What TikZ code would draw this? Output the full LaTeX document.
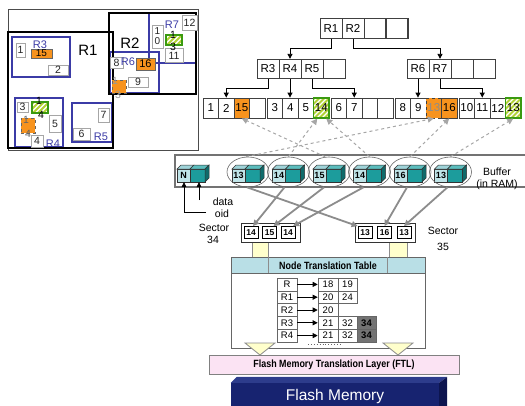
\documentclass[tikz,border=0pt]{standalone}
\usepackage{fontspec}
\setmainfont{Liberation Sans}
\newfontfamily\nb[FakeStretch=0.85]{Liberation Sans}
\usetikzlibrary{arrows.meta,shapes.geometric,calc}
\definecolor{orng}{HTML}{F7931E}
\definecolor{rblue}{HTML}{3B3BA6}
\definecolor{lcube}{HTML}{BFE4E8}
\definecolor{lcubetop}{HTML}{9FD3D8}
\definecolor{tcube}{HTML}{1C9C9C}
\definecolor{tside}{HTML}{0F6B6B}
\definecolor{ttop}{HTML}{5CBDBD}
\definecolor{hgreen}{HTML}{3A9A10}
\definecolor{hyel}{HTML}{B2D235}
\definecolor{ntthead}{HTML}{B9DFE6}
\definecolor{ftlpink}{HTML}{FBE3F3}
\definecolor{ylw}{HTML}{FFFFCC}
\definecolor{navy}{HTML}{172370}
\definecolor{navytop}{HTML}{2D3C8C}
\definecolor{navyside}{HTML}{0D154F}
\tikzset{
  tc/.style={draw=black!75, line width=0.8pt, fill=white, inner sep=0pt, minimum width=22pt, minimum height=19.5pt, font=\fontsize{11.5}{11.5}\selectfont},
  lc/.style={tc, minimum width=15.5pt, minimum height=20pt},
  orc/.style={fill=orng},
  hatch/.style={fill=white, draw=hgreen, line width=1.2pt,
    path picture={\foreach \k in {-24,-19,...,24} \draw[line width=2pt, hyel] ([xshift=\k pt]path picture bounding box.south west) -- ++(26,-26);}},
  tarr/.style={draw=black, line width=0.8pt, -{Triangle[length=5pt,width=5pt]}},
  gbox/.style={draw=black!35, line width=1pt, fill=white, inner sep=0pt, font=\fontsize{10.5}{10.5}\selectfont, text=black!85},
  bluebox/.style={draw=rblue, line width=1.4pt},
  thickbox/.style={draw=black, line width=2pt},
  bluelab/.style={text=rblue, font=\fontsize{11}{11}\selectfont, inner sep=0pt},
  ptext/.style={inner sep=0pt, font=\fontsize{10.5}{10.5}\selectfont},
  dasharr/.style={draw=black!35, dashed, line width=1pt, -{Triangle[length=6pt,width=6pt]}},
  solarr/.style={draw=black!45, line width=1.8pt, -{Triangle[length=6pt,width=6pt]}},
  ell/.style={ellipse, draw=black!60, line width=0.6pt, minimum width=42pt, minimum height=30pt, inner sep=0pt},
  scell/.style={draw=black, line width=0.8pt, fill=white, inner sep=0pt, minimum width=14pt, minimum height=12pt, font=\fontsize{8.5}{8.5}\selectfont\bfseries},
  ntc/.style={draw=black!60, line width=0.6pt, fill=white, inner sep=0pt, minimum height=12.8pt, font=\fontsize{9.5}{9.5}\selectfont},
  lab/.style={inner sep=0pt, font=\fontsize{10.5}{11}\selectfont},
  narr/.style={draw=black, line width=0.8pt, -{Triangle[length=5pt,width=4.5pt]}},
  yarrow/.style={fill=ylw, draw=black!45, line width=0.8pt, line join=miter},
  cubepair/.pic={
    \filldraw[fill=lcube, draw=black!80, line width=0.5pt] (0,0) rectangle (13,13);
    \filldraw[fill=tcube, draw=black!80, line width=0.5pt] (13,0) rectangle (28,13);
    \filldraw[fill=lcubetop, draw=black!80, line width=0.5pt] (0,0) -- (4,-4) -- (17,-4) -- (13,0) -- cycle;
    \filldraw[fill=ttop, draw=black!80, line width=0.5pt] (13,0) -- (17,-4) -- (32,-4) -- (28,0) -- cycle;
    \filldraw[fill=tside, draw=black!80, line width=0.5pt] (28,0) -- (32,-4) -- (32,9) -- (28,13) -- cycle;
    \node[inner sep=0pt, font=\fontsize{9}{9}\selectfont\bfseries] at (6.5,6.8) {\tikzpictext};
    \coordinate (-fb) at (7,13);
    \coordinate (-tb) at (22,13);
  }
}
\begin{document}
\begin{tikzpicture}[x=1pt,y=-1pt]
\useasboundingbox (0,0) rectangle (525,405);

% ================= left spatial panel =================
\draw[black!70, line width=0.8pt] (8,9) rectangle (198,150);
\draw[bluebox] (12,37) rectangle (70,77);
\draw[bluebox] (15,98) rectangle (63,147);
\draw[bluebox] (72,103) rectangle (112,142);
\draw[bluebox] (110,52) rectangle (159,93);
\draw[bluebox] (149,13) rectangle (196,63);
\draw[thickbox] (8,32) rectangle (113,148);
\draw[thickbox] (109,13) rectangle (196,94);

\node[inner sep=0pt, font=\fontsize{15}{15}\selectfont] (tR1) at (88,50) {R1};
\node[inner sep=0pt, font=\fontsize{15}{15}\selectfont] (tR2) at (130,43) {R2};

\node[gbox, minimum width=9pt, minimum height=14pt] (p1) at (20.5,50) {1};
\node[gbox, minimum width=20pt, minimum height=10pt] (p2) at (58,70) {2};
\node[gbox, minimum width=11pt, minimum height=10pt] (p3) at (22.5,107) {3};
\node[gbox, minimum width=12pt, minimum height=17pt] (p5) at (55,123.5) {5};
\node[gbox, minimum width=12pt, minimum height=12pt] (p4) at (37,141) {4};
\node[gbox, minimum width=11pt, minimum height=14pt] (p7) at (103.5,115) {7};
\node[gbox, minimum width=17pt, minimum height=12pt] (p6) at (81.5,134) {6};
\node[gbox, minimum width=13pt, minimum height=11pt] (p8) at (116.5,62.5) {8};
\node[gbox, minimum width=20pt, minimum height=10pt] (p9) at (138,82) {9};
\node[gbox, minimum width=11pt, minimum height=23pt, align=center, font=\fontsize{10}{10}\selectfont] (p10) at (157.5,36.5) {1\\0};
\node[gbox, minimum width=15pt, minimum height=15pt] (p12) at (189.5,22.5) {12};
\node[gbox, minimum width=18pt, minimum height=14pt] (p11) at (174,55.5) {11};

\node[bluelab] (lR3) at (40,44.5) {R3};
\node[draw=black!60, line width=0.6pt, fill=orng, inner sep=0pt, minimum width=21pt, minimum height=9pt, font=\fontsize{10}{10}\selectfont] (p15) at (41.5,53.5) {15};
\node[bluelab] (lR6) at (128,62) {R6};
\node[draw=black!60, line width=0.6pt, fill=orng, inner sep=0pt, minimum width=19pt, minimum height=12pt, font=\fontsize{11}{11}\selectfont] (p16) at (145.5,64) {16};
\node[bluelab] (lR4) at (53,144) {R4};
\node[bluelab] (lR5) at (101,137) {R5};
\node[bluelab] (lR7) at (172,24.5) {R7};

\node[draw=black!60, dashed, line width=0.6pt, fill=orng, inner sep=0pt, minimum width=14pt, minimum height=15pt] (po14) at (28,125.5) {};
\node[ptext, text=black!60] (po14a) at (26,120) {1};
\node[ptext, text=black!60] (po14b) at (28,134) {4};
\node[draw=black!60, dashed, line width=0.6pt, fill=orng, inner sep=0pt, minimum width=14pt, minimum height=13pt] (po13) at (119,86.5) {};
\node[ptext, text=black!40] (po13a) at (115,81) {1};
\node[ptext, text=black!40] (po13b) at (118,95) {3};

\node[hatch, minimum width=16pt, minimum height=11pt, inner sep=0pt] (ph14) at (40,107.5) {};
\node[ptext] (ph14a) at (39,101) {1};
\node[ptext] (ph14b) at (41,115) {4};
\node[hatch, minimum width=16pt, minimum height=10pt, inner sep=0pt] (ph13) at (174,40) {};
\node[ptext] (ph13a) at (173,34.5) {1};
\node[ptext] (ph13b) at (173,46.5) {3};

% ================= R-tree =================
\node[tc] (r1) at (331,28.5) {R1};
\node[tc] (r2) at (353,28.5) {R2};
\node[tc] (r3x) at (375,28.5) {};
\node[tc, line width=1.2pt] (r4x) at (397,28.5) {};

\node[tc] (a3) at (268,69) {R3};
\node[tc] (a4) at (290,69) {R4};
\node[tc] (a5) at (312,69) {R5};
\node[tc] (a6) at (334,69) {};
\node[tc] (b6) at (418,69) {R6};
\node[tc] (b7) at (440,69) {R7};
\node[tc] (b8) at (462,69) {};
\node[tc] (b9) at (484,69) {};

\node[lc] (l1a) at (210.75,108) {1};
\node[lc] (l1b) at (226.25,108) {2};
\node[lc, orc] (l1c) at (241.75,108) {15};
\node[lc] (l1d) at (257.25,108) {};
\node[lc] (l2a) at (274.75,108) {3};
\node[lc] (l2b) at (290.25,108) {4};
\node[lc] (l2c) at (305.75,108) {5};
\node[lc, hatch] (l2d) at (321.25,108) {14};
\node[lc] (l3a) at (338.75,108) {6};
\node[lc] (l3b) at (354.25,108) {7};
\node[lc] (l3c) at (369.75,108) {};
\node[lc] (l3d) at (385.25,108) {};
\node[lc] (l4a) at (402.75,108) {8};
\node[lc] (l4b) at (418.25,108) {9};
\node[lc, orc, dashed, text=black!45] (l4c) at (433.75,108) {13};
\node[lc, orc] (l4d) at (449.25,108) {16};
\node[lc] (l5a) at (466.75,108) {10};
\node[lc] (l5b) at (482.25,108) {11};
\node[lc] (l5c) at (497.75,108) {12};
\node[lc, hatch] (l5d) at (513.25,108) {13};

\draw[tarr] (r1.south) -- ++(0,10) -| (a4.north);
\draw[tarr] (r2.south) -- ++(0,10) -| (b7.north);
\draw[tarr] (a3.south) -- ++(0,9.5) -| (l1b.north);
\draw[tarr] (a4.south) -- (a4.south |- l2b.north);
\draw[tarr] (a5.south) -- ++(0,9.5) -| (l3b.north);
\draw[tarr] (b6.south) -- (b6.south |- l4b.north);
\draw[tarr] (b7.south) -- ++(0,9.5) -| (l5b.north);

% ================= Buffer =================
\draw[draw=black!55, line width=1.5pt, fill=white] (175,155) rectangle (535,187);
\pic[pic text=N] (nc) at (177,169) {cubepair};
\pic[pic text=13] (c1) at (232,169) {cubepair};
\pic[pic text=14] (c2) at (272.5,169) {cubepair};
\pic[pic text=15] (c3) at (313,169) {cubepair};
\pic[pic text=14] (c4) at (353.5,169) {cubepair};
\pic[pic text=16] (c5) at (394,169) {cubepair};
\pic[pic text=13] (c6) at (434.5,169) {cubepair};
\node[ell] (e1) at (248,172) {};
\node[ell] (e2) at (288.5,172) {};
\node[ell] (e3) at (329,172) {};
\node[ell] (e4) at (369.5,172) {};
\node[ell] (e5) at (410,172) {};
\node[ell] (e6) at (450.5,172) {};
\node[align=center, font=\fontsize{10.5}{12}\selectfont] (buflab) at (497,178.5) {Buffer\\(in RAM)};

\coordinate (oidend) at (206,212);
\coordinate (dataend) at (199,200);
\draw[narr] (oidend) -| (nc-fb);
\draw[narr] (dataend) -- (dataend |- nc-tb);
\node[lab] (tdata) at (223,202) {data};
\node[lab] (toid) at (222,214) {oid};
\node[lab] (tsec34) at (214,228) {Sector};
\node[lab] (t34) at (213,240) {34};
\node[lab] (tsec35) at (443,231) {Sector};
\node[lab] (t35) at (443,247) {35};

% yellow arrows (shafts behind the table)
\filldraw[yarrow] (252,241) -- (268,241) -- (268,346) -- (252,346) -- cycle;
\filldraw[yarrow] (389,241) -- (407,241) -- (407,346) -- (389,346) -- cycle;

% sectors
\node[draw=black!80, line width=0.8pt, fill=white, minimum width=59pt, minimum height=19pt, inner sep=0pt] (s34) at (270.5,232.5) {};
\node[scell] (s34a) at (251,232.5) {14};
\node[scell] (s34b) at (269.5,232.5) {15};
\node[scell] (s34c) at (288,232.5) {14};
\node[draw=black!80, line width=0.8pt, fill=white, minimum width=60pt, minimum height=19pt, inner sep=0pt] (s35) at (385,232.5) {};
\node[scell] (s35a) at (365,232.5) {13};
\node[scell] (s35b) at (384.5,232.5) {16};
\node[scell] (s35c) at (404,232.5) {13};

% arrows buffer -> leaves (dashed)
\draw[dasharr] ([xshift=-2pt]e1.north) -- (l4c.south);
\draw[dasharr] (e2.north) -- ([xshift=-4pt]l2d.south);
\draw[dasharr] ([xshift=-4pt]e3.north) -- (l1c.south);
\draw[dasharr] (e4.north) -- ([xshift=5pt]l2d.south);
\draw[dasharr] (e5.north) -- (l4d.south);
\draw[dasharr] (e6.north) -- (l5d.south);

% arrows buffer -> sectors (solid)
\draw[solarr] ([xshift=-1pt]e1.south) -- (s35a.north west);
\draw[solarr] ([xshift=-4pt]e2.south) -- ([xshift=2pt]s34a.north);
\draw[solarr] ([xshift=-5pt]e3.south) -- ([xshift=4pt]s34b.north);
\draw[solarr] ([xshift=-6pt]e4.south) -- ([xshift=5pt]s34c.north);
\draw[solarr] ([xshift=-3pt]e5.south) -- (s35b.north);
\draw[solarr] ([xshift=-3pt]e6.south) -- (s35c.north);

% ================= Node Translation Table =================
\node[draw=black!60, fill=white, line width=0.8pt, minimum width=194pt, minimum height=91pt, inner sep=0pt] (ntt) at (328,302.5) {};
\draw[black!60, line width=0.8pt, fill=ntthead] (231,257) rectangle (425,273);
\draw[black!45, line width=0.6pt] (268,257) -- (268,273) (387,257) -- (387,273);
\node[inner sep=0pt, font={\nb\bfseries\fontsize{10.5}{11}\selectfont}] (ntttitle) at (328,265.5) {Node Translation Table};

\node[ntc, minimum width=20pt] (tR) at (287,284.4) {R};
\node[ntc, minimum width=20pt] (tRi) at (287,297.2) {R1};
\node[ntc, minimum width=20pt] (tRii) at (287,310) {R2};
\node[ntc, minimum width=20pt] (tRiii) at (287,322.8) {R3};
\node[ntc, minimum width=20pt] (tRiv) at (287,335.6) {R4};

\node[ntc, minimum width=20pt] (vRa) at (328,284.4) {18};
\node[ntc, minimum width=19pt] (vRb) at (347.5,284.4) {19};
\node[ntc, minimum width=20pt] (viA) at (328,297.2) {20};
\node[ntc, minimum width=19pt] (viB) at (347.5,297.2) {24};
\node[ntc, minimum width=20pt] (viiA) at (328,310) {20};
\node[ntc, minimum width=20pt] (viiiA) at (328,322.8) {21};
\node[ntc, minimum width=19pt] (viiiB) at (347.5,322.8) {32};
\node[ntc, minimum width=19pt, fill=black!55, font=\fontsize{9.5}{9.5}\selectfont\bfseries] (viiiC) at (366.5,322.8) {34};
\node[ntc, minimum width=20pt] (ivA) at (328,335.6) {21};
\node[ntc, minimum width=19pt] (ivB) at (347.5,335.6) {32};
\node[ntc, minimum width=19pt, fill=black!55, font=\fontsize{9.5}{9.5}\selectfont\bfseries] (ivC) at (366.5,335.6) {34};

\draw[tarr] (tR.east) -- (vRa.west);
\draw[tarr] (tRi.east) -- (viA.west);
\draw[tarr] (tRii.east) -- (viiA.west);
\draw[tarr] (tRiii.east) -- (viiiA.west);
\draw[tarr] (tRiv.east) -- (ivA.west);
\draw[black!60, dotted, line width=0.9pt] (308,344) -- (340,344);

% yellow arrow heads (over the table's bottom edge)
\filldraw[yarrow] (245,343) -- (275,343) -- (260,355) -- cycle;
\filldraw[yarrow] (383,343) -- (413,343) -- (398,355) -- cycle;

% ================= FTL & Flash =================
\node[draw=black!50, line width=0.8pt, fill=ftlpink, minimum width=250pt, minimum height=19pt, inner sep=0pt, font={\nb\bfseries\fontsize{10.5}{11}\selectfont}] (ftl) at (334,364.5) {Flash Memory Translation Layer (FTL)};

\node[fill=navy, minimum width=208pt, minimum height=27pt, inner sep=0pt, text=white, font=\fontsize{15.5}{15.5}\selectfont] (fm) at (335,396.5) {Flash Memory};
\fill[navytop] (fm.north west) -- ++(6,-6) -- ($(fm.north east)+(8,-6)$) -- (fm.north east) -- cycle;
\fill[navyside] (fm.north east) -- ++(8,-6) -- ++(0,30) -- (fm.south east) -- cycle;
\end{tikzpicture}
\end{document}
